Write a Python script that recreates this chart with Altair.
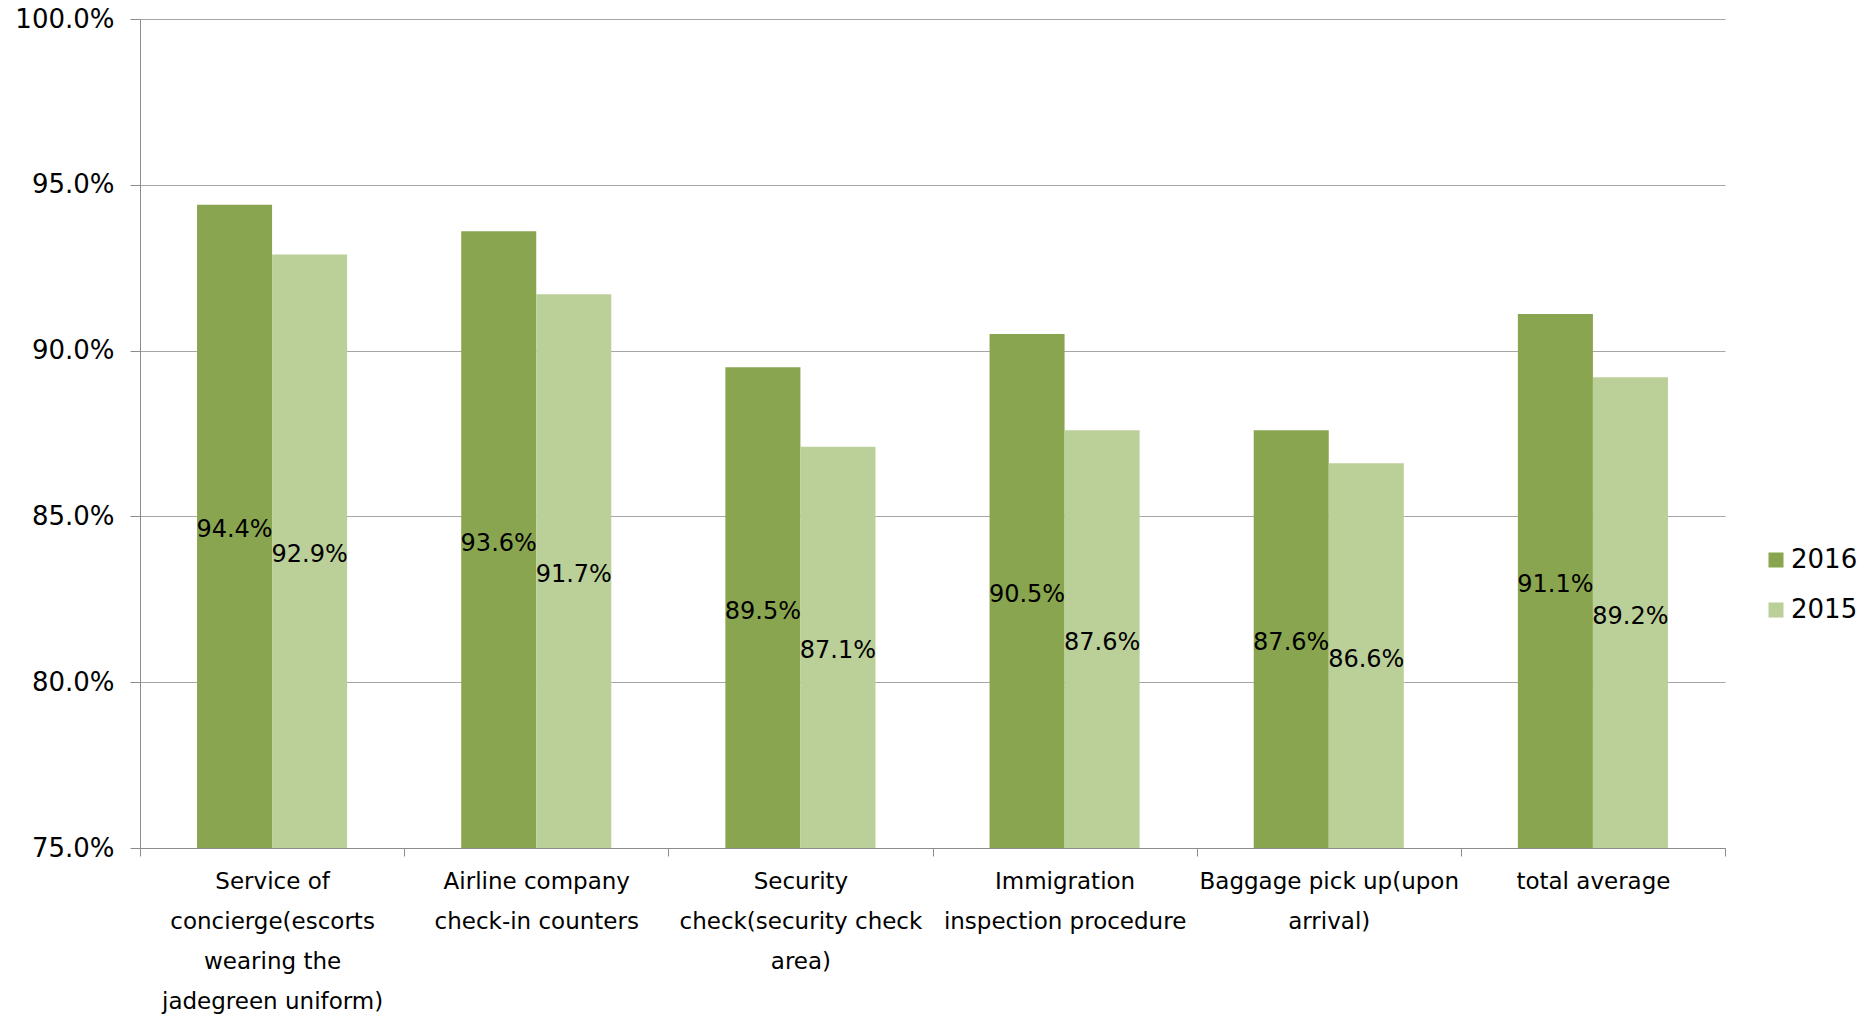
import altair as alt
import pandas as pd

categories = [
    "Service of|concierge(escorts|wearing the|jadegreen uniform)",
    "Airline company|check-in counters",
    "Security|check(security check|area)",
    "Immigration|inspection procedure",
    "Baggage pick up(upon|arrival)",
    "total average",
]
years = ["2016", "2015"]
values_2016 = [0.944, 0.936, 0.895, 0.905, 0.876, 0.911]
values_2015 = [0.929, 0.917, 0.871, 0.876, 0.866, 0.892]
y_ticks = [0.75, 0.80, 0.85, 0.90, 0.95, 1.00]
colors = ["#8aa54f", "#bbcf99"]

rows = []
for c, v16, v15 in zip(categories, values_2016, values_2015):
    rows.append({"category": c, "year": "2016", "value": v16})
    rows.append({"category": c, "year": "2015", "value": v15})
df = pd.DataFrame(rows)

FONT = "DejaVu Sans"

x_enc = alt.X(
    "category:N",
    sort=categories,
    scale=alt.Scale(paddingInner=0, paddingOuter=0),
    axis=alt.Axis(
        title=None,
        labelAngle=0,
        tickBand="extent",
        labelExpr="split(datum.label, '|')",
        labelFontSize=23,
        labelLineHeight=40,
        labelLimit=0,
        labelColor="#000000",
        labelFont=FONT,
        labelPadding=14,
        tickSize=8,
        tickColor="#8c8c8c",
        domainColor="#8c8c8c",
        grid=False,
        labelBaseline="top",
    ),
)
xoff = alt.XOffset("year:N", sort=years, scale=alt.Scale(paddingInner=0, paddingOuter=0.76))

y_enc = alt.Y(
    "value:Q",
    scale=alt.Scale(domain=[0.75, 1.0], zero=False, nice=False),
    axis=alt.Axis(
        title=None,
        format=".1%",
        values=y_ticks,
        labelFontSize=26,
        labelFont=FONT,
        labelColor="#000000",
        labelPadding=16,
        tickSize=10,
        tickColor="#8c8c8c",
        domainColor="#8c8c8c",
        grid=True,
        gridColor="#a6a6a6",
        gridWidth=1,
    ),
)

bars = alt.Chart(df).mark_bar().encode(
    x=x_enc,
    xOffset=xoff,
    y=y_enc,
    y2=alt.Y2(datum=0.75),
    color=alt.Color(
        "year:N",
        sort=years,
        scale=alt.Scale(domain=years, range=colors),
        legend=alt.Legend(
            orient="none",
            legendX=1623,
            legendY=528,
            title=None,
            symbolType="square",
            symbolSize=225,
            symbolStrokeWidth=0,
            labelFontSize=26,
            labelFont=FONT,
            labelColor="#000000",
            labelOffset=2,
            rowPadding=24,
            padding=0,
        ),
    ),
)

labels = alt.Chart(df).transform_calculate(
    mid="(datum.value + 0.75) / 2"
).mark_text(fontSize=24, font=FONT, color="#000000", dy=4).encode(
    x=alt.X("category:N", sort=categories),
    xOffset=xoff,
    y=alt.Y("mid:Q"),
    text=alt.Text("value:Q", format=".1%"),
)

chart = alt.layer(bars, labels).properties(
    width=1585,
    height=829,
    padding={"left": 140, "top": 19, "right": 143, "bottom": 168},
    autosize="none",
).configure_view(stroke=None)

chart.save("out.html", embed_options={"renderer": "svg", "actions": False})
